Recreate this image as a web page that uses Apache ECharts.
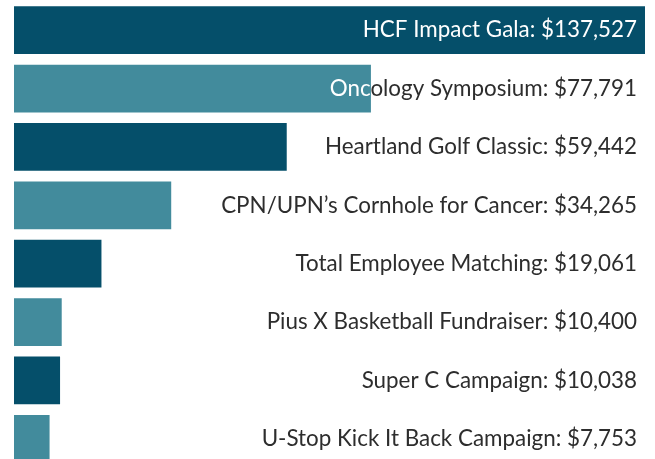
<!DOCTYPE html>
<html>
<head>
<meta charset="utf-8">
<script src="https://cdn.jsdelivr.net/npm/echarts@6/dist/echarts.min.js"></script>
<style>
  html, body { margin: 0; padding: 0; background: #fff; }
  #chart { width: 655px; height: 459px; }
</style>
</head>
<body>
<div id="chart"></div>
<script>
const events = [
  'HCF Impact Gala',
  'Oncology Symposium',
  'Heartland Golf Classic',
  'CPN/UPN\u2019s Cornhole for Cancer',
  'Total Employee Matching',
  'Pius X Basketball Fundraiser',
  'Super C Campaign',
  'U-Stop Kick It Back Campaign'
]
const amounts = [137527, 77791, 59442, 34265, 19061, 10400, 10038, 7753]
const barColors = ['#054f6a', '#428b9c']

const labelFont = '22.4px Lato'

const chart = echarts.init(document.getElementById('chart'))

function money(v) {
  return '$' + v.toLocaleString('en-US')
}

function renderItem(params, api) {
  const idx = api.value(1)
  const start = api.coord([0, idx])
  const end = api.coord([api.value(0), idx])
  const band = api.size([0, 1])[1]
  const h = band * 0.817
  const grid = params.coordSys
  const right = grid.x + grid.width - 8
  const text = events[idx] + ': ' + money(amounts[idx])
  const bar = { x: start[0], y: start[1] - h / 2, width: end[0] - start[0], height: h }

  return {
    type: 'group',
    children: [
      {
        type: 'rect',
        shape: bar,
        style: { fill: barColors[idx % 2] }
      },
      // dark part of the label, outside the bar
      {
        type: 'text',
        style: {
          text: text, x: right, y: start[1], align: 'right', verticalAlign: 'middle',
          font: labelFont, fill: '#2d2d2d'
        },
        clipPath: {
          type: 'rect',
          shape: { x: end[0], y: bar.y - 10, width: 1000, height: h + 20 }
        }
      },
      // white part, over the bar
      {
        type: 'text',
        style: {
          text: text, x: right, y: start[1], align: 'right', verticalAlign: 'middle',
          font: labelFont, fill: '#ffffff'
        },
        clipPath: { type: 'rect', shape: bar }
      }
    ]
  }
}

chart.setOption({
  animation: false,
  grid: { left: 14, right: 10, top: 1, height: 467, outerBoundsMode: 'none' },
  xAxis: { type: 'value', min: 0, max: Math.max(...amounts), show: false },
  yAxis: { type: 'category', data: events, inverse: true, show: false },
  series: [{
    type: 'custom',
    renderItem: renderItem,
    encode: { x: 0, y: 1 },
    data: amounts.map((v, i) => [v, i])
  }]
})
</script>
</body>
</html>
